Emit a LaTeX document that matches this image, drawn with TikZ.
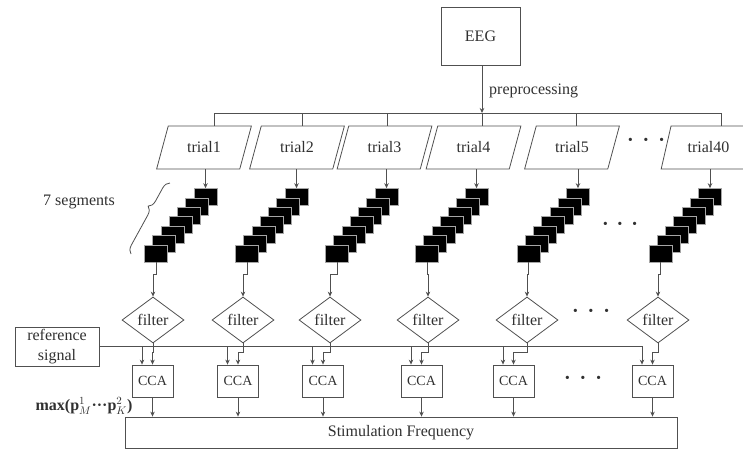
\documentclass[tikz,border=0pt]{standalone}
\usepackage{fontspec}
\setmainfont{Liberation Serif}
\usetikzlibrary{shapes.geometric,arrows.meta,decorations.pathreplacing,calc}
\definecolor{ln}{HTML}{505050}
\definecolor{tx}{HTML}{303030}
\begin{document}
\begin{tikzpicture}[x=1pt,y=-1pt,
  every node/.style={text=tx,font=\fontsize{16}{18}\selectfont},
  line/.style={draw=ln,line width=0.8pt},
  arr/.style={line,-{Stealth[length=5pt,width=4.5pt]}},
  trialbox/.style={trapezium,trapezium left angle=64,trapezium right angle=116,trapezium stretches=true,minimum width=95pt,minimum height=43pt,draw=ln,line width=0.8pt,inner sep=0pt},
  seg/.style={rectangle,fill=black,draw=black!35,line width=0.6pt,minimum width=23pt,minimum height=17pt,inner sep=0pt},
  filterbox/.style={diamond,draw=ln,line width=0.8pt,minimum width=62pt,minimum height=46pt,inner sep=0pt},
  ccabox/.style={rectangle,draw=ln,line width=0.8pt,minimum width=41pt,minimum height=32pt,inner sep=0pt,font=\fontsize{14}{16}\selectfont},
  plainbox/.style={rectangle,draw=ln,line width=0.8pt,inner sep=0pt},
  dotsrow/.style={font=\fontsize{20}{20}\bfseries\selectfont,inner sep=0pt}]
\useasboundingbox (0,0) rectangle (743,450);

% EEG
\node[plainbox,minimum width=79pt,minimum height=58pt] (eeg) at (480.5,36) {EEG};
\node[anchor=west,inner sep=0pt] (pre) at (489,91) {preprocessing};
\coordinate (busL) at (214,113);
\coordinate (busR) at (721,113);
\coordinate (busE) at (482,113);
\draw[arr] (eeg.south -| busE) -- (busE);
\draw[line] (busL) -- (busR);

% reference signal and stimulation box
\node[plainbox,minimum width=84pt,minimum height=39pt,align=center,font=\fontsize{16}{20}\selectfont] (ref) at (57,346.5) {reference\\signal};
\node[plainbox,minimum width=552pt,minimum height=31pt] (stim) at (401,432.5) {Stimulation Frequency};

\foreach \i/\tc/\tt/\sx/\fx/\cx/\bx in {1/204/trial1/205.5/153/152.5/214,2/297/trial2/296.5/243/238/302,3/384.5/trial3/386.5/330/323/387,4/473.5/trial4/476.5/428/421.5/482,5/572/trial5/578/527/513.5/576,6/708.5/trial40/710/658/652.5/721}{
  \node[trialbox] (t\i) at (\tc,147.5) {\tt};
  \coordinate (b\i) at (\bx,113);
  \draw[line] (b\i) -- (b\i |- t\i.north);
  \foreach \k in {0,...,6}{
    \node[seg] (s\i-\k) at ({\sx-8.25*\k},{197+9.4*\k}) {};
  }
  \draw[arr] (t\i.south -| s\i-0.north) -- (s\i-0.north);
  \node[filterbox] (f\i) at (\fx,320) {filter};
  \draw[arr] (s\i-6.south) -- ++(0,12) -| (f\i.north);
  \node[ccabox] (c\i) at (\cx,381) {CCA};
  \draw[arr] (f\i.south) -- ++(0,9) -| (c\i.north);
  \draw[arr] (c\i.south) -- (c\i.south |- stim.north);
}
% reference bus
\draw[arr] (ref.east) -| ([xshift=-10.5pt]c6.north);
\foreach \i in {1,...,5}{
  \draw[arr] ([xshift=-10.5pt]c\i.north |- ref.east) -- ([xshift=-10.5pt]c\i.north);
}

% brace and labels
\draw[line,decorate,decoration={brace,amplitude=8pt,aspect=0.62}] (131,254) -- (170,183);
\node (seglab) at (79,202) {7 segments};
\node[font=\fontsize{16}{18}\bfseries\selectfont,inner sep=0pt] (maxlab) at (84,406) {max(p$^{1}_{M}$···p$^{2}_{K}$)};

% ellipses
\node[dotsrow] (d1) at (646,142) {·\hspace{9pt}·\hspace{9pt}·};
\node[dotsrow] (d2) at (620,226) {·\hspace{8pt}·\hspace{8pt}·};
\node[dotsrow] (d3) at (591,313) {·\hspace{9pt}·\hspace{9pt}·};
\node[dotsrow] (d4) at (583,380) {·\hspace{9pt}·\hspace{9pt}·};
\end{tikzpicture}
\end{document}
